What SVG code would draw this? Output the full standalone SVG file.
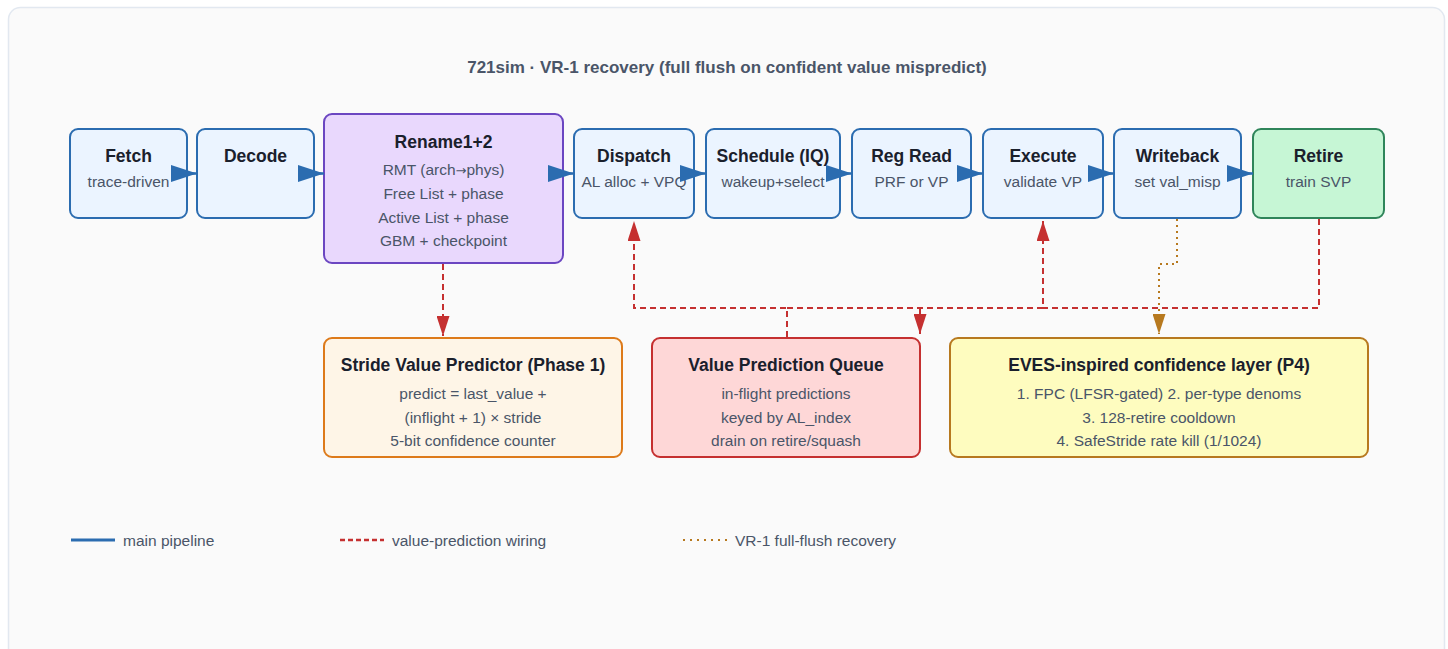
<svg xmlns="http://www.w3.org/2000/svg" width="1448" height="649" viewBox="0 0 1448 649">
<style>
.t{font-family:"Liberation Sans",Arial,sans-serif;font-weight:bold;font-size:17.5px;fill:#1a202c;text-anchor:middle}
.s{font-family:"Liberation Sans",Arial,sans-serif;font-size:15.5px;fill:#4a5568;text-anchor:middle}
.lg{font-family:"Liberation Sans",Arial,sans-serif;font-size:15.5px;fill:#4a5568}
.blue rect{fill:#ebf4ff;stroke:#2b6cb0;stroke-width:2}
.main{stroke:#2b6cb0;stroke-width:2.5;fill:none;marker-end:url(#ab)}
.vp{stroke:#c53030;stroke-width:2;stroke-dasharray:6 4;fill:none}
.vpa{marker-end:url(#ar)}
.vr{stroke:#b7791f;stroke-width:2;stroke-dasharray:2 4;fill:none;marker-end:url(#ao)}
</style>
<defs>
<marker id="ab" markerUnits="userSpaceOnUse" markerWidth="26" markerHeight="17" refX="26" refY="8.5" orient="auto"><path d="M0,0 L26,8.5 L0,17 z" fill="#2b6cb0"/></marker>
<marker id="ar" markerUnits="userSpaceOnUse" markerWidth="20" markerHeight="13" refX="20" refY="6.5" orient="auto"><path d="M0,0 L20,6.5 L0,13 z" fill="#c53030"/></marker>
<marker id="ao" markerUnits="userSpaceOnUse" markerWidth="20" markerHeight="13" refX="20" refY="6.5" orient="auto"><path d="M0,0 L20,6.5 L0,13 z" fill="#b7791f"/></marker>
</defs>
<rect x="0" y="0" width="1448" height="649" fill="#ffffff"/>
<rect x="8.5" y="7.5" width="1436" height="670" rx="12" fill="#fafafa" stroke="#e2e8f0" stroke-width="1.5"/>
<text x="727" y="73" style="font-family:'Liberation Sans',Arial,sans-serif;font-weight:bold;font-size:17px;fill:#4a5568;text-anchor:middle">721sim · VR-1 recovery (full flush on confident value mispredict)</text>

<g id="fetch" class="blue"><rect x="70" y="129" width="117" height="89" rx="8"/><text class="t" x="128.5" y="162">Fetch</text><text class="s" x="128.5" y="186.5">trace-driven</text></g>
<g id="decode" class="blue"><rect x="197" y="129" width="117" height="89" rx="8"/><text class="t" x="255.5" y="162">Decode</text></g>
<g id="rename"><rect x="324" y="114" width="239" height="149" rx="8" fill="#e9d8fd" stroke="#6b46c1" stroke-width="2"/><text class="t" x="443.5" y="148">Rename1+2</text><text class="s" x="443.5" y="174.5">RMT (arch<tspan style="font-family:'DejaVu Sans',sans-serif;font-size:13px">→</tspan>phys)</text><text class="s" x="443.5" y="198.5">Free List + phase</text><text class="s" x="443.5" y="222.5">Active List + phase</text><text class="s" x="443.5" y="245.5">GBM + checkpoint</text></g>
<g id="dispatch" class="blue"><rect x="574" y="129" width="120" height="89" rx="8"/><text class="t" x="634" y="162">Dispatch</text><text class="s" x="634" y="186.5">AL alloc + VPQ</text></g>
<g id="schedule" class="blue"><rect x="706" y="129" width="134" height="89" rx="8"/><text class="t" x="773" y="162">Schedule (IQ)</text><text class="s" x="773" y="186.5">wakeup+select</text></g>
<g id="regread" class="blue"><rect x="852" y="129" width="119" height="89" rx="8"/><text class="t" x="911.5" y="162">Reg Read</text><text class="s" x="911.5" y="186.5">PRF or VP</text></g>
<g id="execute" class="blue"><rect x="983" y="129" width="120" height="89" rx="8"/><text class="t" x="1043" y="162">Execute</text><text class="s" x="1043" y="186.5">validate VP</text></g>
<g id="writeback" class="blue"><rect x="1114" y="129" width="127" height="89" rx="8"/><text class="t" x="1177.5" y="162">Writeback</text><text class="s" x="1177.5" y="186.5">set val_misp</text></g>
<g id="retire"><rect x="1253" y="129" width="131" height="89" rx="8" fill="#c6f6d5" stroke="#2f855a" stroke-width="2"/><text class="t" x="1318.5" y="162">Retire</text><text class="s" x="1318.5" y="186.5">train SVP</text></g>

<g id="svp"><rect x="324" y="338" width="298" height="119" rx="8" fill="#fef5e7" stroke="#dd7a1a" stroke-width="2"/><text class="t" x="473" y="371">Stride Value Predictor (Phase 1)</text><text class="s" x="473" y="398.5">predict = last_value +</text><text class="s" x="473" y="422.5">(inflight + 1) × stride</text><text class="s" x="473" y="446">5-bit confidence counter</text></g>
<g id="vpq"><rect x="652" y="338" width="268" height="119" rx="8" fill="#fed7d7" stroke="#c53030" stroke-width="2"/><text class="t" x="786" y="371">Value Prediction Queue</text><text class="s" x="786" y="398.5">in-flight predictions</text><text class="s" x="786" y="422.5">keyed by AL_index</text><text class="s" x="786" y="446">drain on retire/squash</text></g>
<g id="eves"><rect x="950" y="338" width="418" height="119" rx="8" fill="#fefcbf" stroke="#b7791f" stroke-width="2"/><text class="t" x="1159" y="371">EVES-inspired confidence layer (P4)</text><text class="s" x="1159" y="398.5">1. FPC (LFSR-gated) 2. per-type denoms</text><text class="s" x="1159" y="422.5">3. 128-retire cooldown</text><text class="s" x="1159" y="446">4. SafeStride rate kill (1/1024)</text></g>

<g id="connectors">
<line class="main" x1="187" y1="173.5" x2="197" y2="173.5"/>
<line class="main" x1="314" y1="173.5" x2="324" y2="173.5"/>
<line class="main" x1="563" y1="173.5" x2="574" y2="173.5"/>
<line class="main" x1="694" y1="173.5" x2="706" y2="173.5"/>
<line class="main" x1="840" y1="173.5" x2="852" y2="173.5"/>
<line class="main" x1="971" y1="173.5" x2="983" y2="173.5"/>
<line class="main" x1="1103" y1="173.5" x2="1114" y2="173.5"/>
<line class="main" x1="1241" y1="173.5" x2="1253" y2="173.5"/>
<path class="vp vpa" d="M443,264 V336"/>
<path class="vp vpa" d="M787,337 V308 H634 V221"/>
<path class="vp vpa" d="M787,308 H1043 V221"/>
<path class="vp" d="M1319,219 V308 H1043"/>
<path class="vp vpa" d="M920,308 V334"/>
<path class="vr" d="M1177,219 V264 H1159 V334"/>
</g>

<g id="legend">
<line x1="71" y1="540" x2="115" y2="540" stroke="#2b6cb0" stroke-width="3"/>
<text class="lg" x="123" y="546">main pipeline</text>
<line x1="340" y1="540" x2="384" y2="540" stroke="#c53030" stroke-width="2.5" stroke-dasharray="5 3"/>
<text class="lg" x="392" y="546">value-prediction wiring</text>
<line x1="683" y1="540" x2="727" y2="540" stroke="#b7791f" stroke-width="2" stroke-dasharray="2 5"/>
<text class="lg" x="735" y="546">VR-1 full-flush recovery</text>
</g>
</svg>
